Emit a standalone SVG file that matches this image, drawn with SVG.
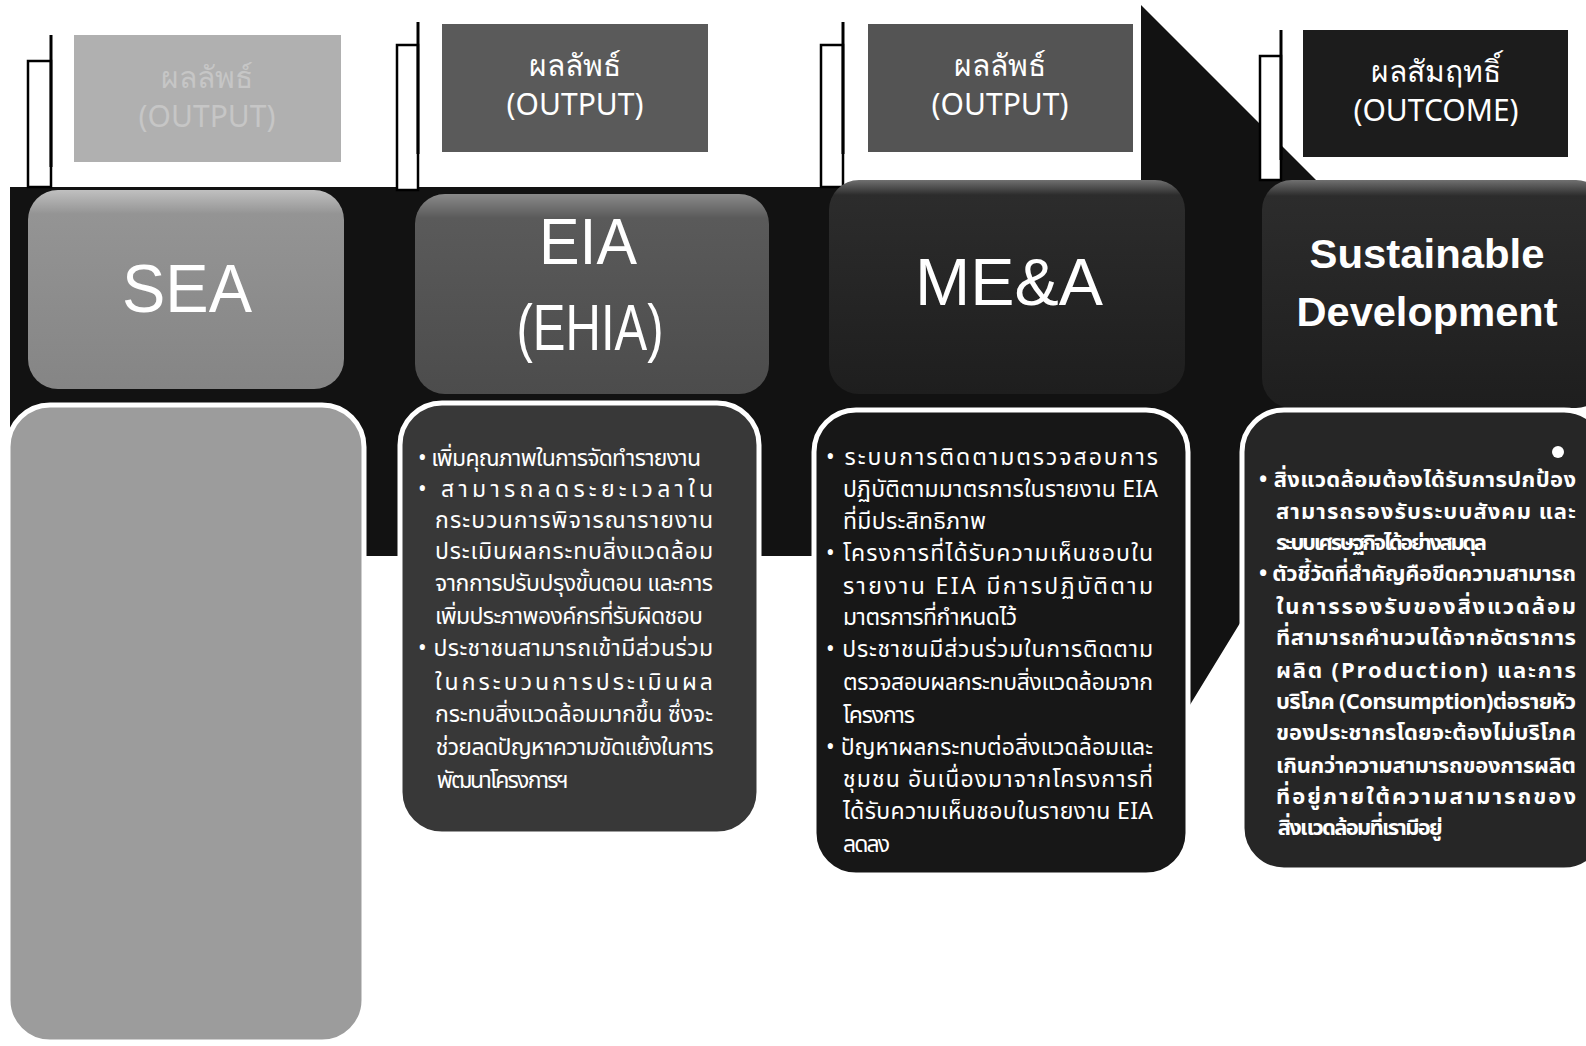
<svg xmlns="http://www.w3.org/2000/svg" width="1586" height="1046" viewBox="0 0 1586 1046">
<defs>
<linearGradient id="gSEA" x1="0" y1="0" x2="0" y2="1">
<stop offset="0" stop-color="#c0c0c0"/><stop offset="0.12" stop-color="#949494"/><stop offset="1" stop-color="#858585"/>
</linearGradient>
<linearGradient id="gEIA" x1="0" y1="0" x2="0" y2="1">
<stop offset="0" stop-color="#8a8a8a"/><stop offset="0.12" stop-color="#5a5a5a"/><stop offset="1" stop-color="#4c4c4c"/>
</linearGradient>
<linearGradient id="gDark" x1="0" y1="0" x2="0" y2="1">
<stop offset="0" stop-color="#707070"/><stop offset="0.07" stop-color="#2c2c2c"/><stop offset="1" stop-color="#1e1e1e"/>
</linearGradient>
<style>
.br{fill:#fff;stroke:#000;stroke-width:2.5}
.brl{stroke:#000;stroke-width:3}
.hd{font-family:"Noto Sans","Open Sans","Liberation Sans",sans-serif;font-size:30px;fill:#fff;text-anchor:middle}
.ttl{font-family:"Liberation Sans",Arial,sans-serif;fill:#fff;text-anchor:middle}
.body{stroke:#fff;stroke-width:5}
.tx{font-family:"Noto Sans Thai","Loma","Garuda","Tlwg Typo","Norasi","DejaVu Sans","Noto Sans",sans-serif;font-size:23px;fill:#fff}
.sd{font-weight:bold;font-size:22px}
</style>
</defs>
<rect width="1586" height="1046" fill="#fff"/>

<g id="band">
<polygon points="10,187 1141,187 1141,5 1437,301 1141,785 1141,556 10,556" fill="#121212"/>
</g>

<g id="connectors">
<rect class="br" x="28" y="61" width="23" height="126"/>
<line class="brl" x1="51" y1="35" x2="51" y2="167"/>
<rect class="br" x="397" y="45" width="21" height="145"/>
<line class="brl" x1="418" y1="22" x2="418" y2="154"/>
<rect class="br" x="821" y="45" width="22" height="142"/>
<line class="brl" x1="843" y1="22" x2="843" y2="154"/>
<rect class="br" x="1260" y="56" width="21" height="124"/>
<line class="brl" x1="1281" y1="30" x2="1281" y2="160"/>
</g>

<g id="h1">
<rect x="74" y="35" width="267" height="127" fill="#b0b0b0"/>
<text class="hd" x="207" y="88" style="fill:#c6c6c6">ผลลัพธ์</text>
<text class="hd" x="207" y="127" style="fill:#c6c6c6">(OUTPUT)</text>
</g>
<g id="h2">
<rect x="442" y="24" width="266" height="128" fill="#5a5a5a"/>
<text class="hd" x="575" y="76">ผลลัพธ์</text>
<text class="hd" x="575" y="115">(OUTPUT)</text>
</g>
<g id="h3">
<rect x="868" y="24" width="265" height="128" fill="#545454"/>
<text class="hd" x="1000" y="76">ผลลัพธ์</text>
<text class="hd" x="1000" y="115">(OUTPUT)</text>
</g>
<g id="h4">
<rect x="1303" y="30" width="265" height="127" fill="#1c1c1c"/>
<text class="hd" x="1436" y="82">ผลสัมฤทธิ์</text>
<text class="hd" x="1436" y="121">(OUTCOME)</text>
</g>

<g id="sea">
<rect x="28" y="190" width="316" height="199" rx="30" fill="url(#gSEA)"/>
<text class="ttl" x="187" y="312" font-size="68" textLength="130" lengthAdjust="spacingAndGlyphs">SEA</text>
</g>
<g id="eia">
<rect x="415" y="194" width="354" height="200" rx="30" fill="url(#gEIA)"/>
<text class="ttl" x="588" y="264" font-size="64" textLength="98" lengthAdjust="spacingAndGlyphs">EIA</text>
<text class="ttl" x="590" y="350" font-size="64" textLength="147" lengthAdjust="spacingAndGlyphs">(EHIA)</text>
</g>
<g id="mea">
<rect x="829" y="180" width="356" height="214" rx="30" fill="url(#gDark)"/>
<text class="ttl" x="1009" y="305" font-size="66" textLength="188" lengthAdjust="spacingAndGlyphs">ME&amp;A</text>
</g>
<g id="sd">
<rect x="1262" y="180" width="344" height="228" rx="30" fill="url(#gDark)"/>
<text class="ttl" x="1427" y="268" font-size="40" font-weight="bold" textLength="235" lengthAdjust="spacingAndGlyphs">Sustainable</text>
<text class="ttl" x="1427" y="326" font-size="40" font-weight="bold" textLength="261" lengthAdjust="spacingAndGlyphs">Development</text>
</g>

<g id="sea-body">
<rect class="body" x="8" y="405" width="356" height="637" rx="42" fill="#9c9c9c"/>
</g>

<g id="eia-body">
<rect class="body" x="400" y="403" width="359" height="431" rx="42" fill="#383838"/>
<g class="tx">
<text x="418" y="466" textLength="283" lengthAdjust="spacing">• เพิ่มคุณภาพในการจัดทำรายงาน</text>
<text x="418" y="497" textLength="295" lengthAdjust="spacing">• สามารถลดระยะเวลาใน</text>
<text x="435" y="528" textLength="278" lengthAdjust="spacing">กระบวนการพิจารณารายงาน</text>
<text x="435" y="559" textLength="278" lengthAdjust="spacing">ประเมินผลกระทบสิ่งแวดล้อม</text>
<text x="435" y="591" textLength="278" lengthAdjust="spacing">จากการปรับปรุงขั้นตอน และการ</text>
<text x="435" y="624" textLength="268" lengthAdjust="spacing">เพิ่มประภาพองค์กรที่รับผิดชอบ</text>
<text x="418" y="656" textLength="295" lengthAdjust="spacing">• ประชาชนสามารถเข้ามีส่วนร่วม</text>
<text x="435" y="690" textLength="278" lengthAdjust="spacing">ในกระบวนการประเมินผล</text>
<text x="435" y="722" textLength="278" lengthAdjust="spacing">กระทบสิ่งแวดล้อมมากขึ้น ซึ่งจะ</text>
<text x="435" y="755" textLength="278" lengthAdjust="spacing">ช่วยลดปัญหาความขัดแย้งในการ</text>
<text x="435" y="788" textLength="132" lengthAdjust="spacing">พัฒนาโครงการฯ</text>
</g>
</g>

<g id="mea-body">
<rect class="body" x="814" y="410" width="374" height="465" rx="42" fill="#171717"/>
<g class="tx">
<text x="826" y="465" textLength="332" lengthAdjust="spacing">• ระบบการติดตามตรวจสอบการ</text>
<text x="843" y="497" textLength="315" lengthAdjust="spacing">ปฏิบัติตามมาตรการในรายงาน EIA</text>
<text x="843" y="529" textLength="143" lengthAdjust="spacing">ที่มีประสิทธิภาพ</text>
<text x="826" y="561" textLength="327" lengthAdjust="spacing">• โครงการที่ได้รับความเห็นชอบใน</text>
<text x="843" y="594" textLength="310" lengthAdjust="spacing">รายงาน EIA มีการปฏิบัติตาม</text>
<text x="843" y="625" textLength="174" lengthAdjust="spacing">มาตรการที่กำหนดไว้</text>
<text x="826" y="657" textLength="327" lengthAdjust="spacing">• ประชาชนมีส่วนร่วมในการติดตาม</text>
<text x="843" y="690" textLength="310" lengthAdjust="spacing">ตรวจสอบผลกระทบสิ่งแวดล้อมจาก</text>
<text x="843" y="723" textLength="72" lengthAdjust="spacing">โครงการ</text>
<text x="826" y="755" textLength="327" lengthAdjust="spacing">• ปัญหาผลกระทบต่อสิ่งแวดล้อมและ</text>
<text x="843" y="787" textLength="310" lengthAdjust="spacing">ชุมชน อันเนื่องมาจากโครงการที่</text>
<text x="843" y="819" textLength="310" lengthAdjust="spacing">ได้รับความเห็นชอบในรายงาน EIA</text>
<text x="843" y="852" textLength="47" lengthAdjust="spacing">ลดลง</text>
</g>
</g>

<g id="sd-body">
<rect class="body" x="1242" y="410" width="364" height="460" rx="42" fill="#262626"/>
<circle cx="1558" cy="452" r="6" fill="#fff"/>
<g class="tx sd">
<text x="1259" y="487" textLength="317" lengthAdjust="spacing">• สิ่งแวดล้อมต้องได้รับการปกป้อง</text>
<text x="1276" y="519" textLength="300" lengthAdjust="spacing">สามารถรองรับระบบสังคม และ</text>
<text x="1276" y="550" textLength="211" lengthAdjust="spacing">ระบบเศรษฐกิจได้อย่างสมดุล</text>
<text x="1259" y="581" textLength="317" lengthAdjust="spacing">• ตัวชี้วัดที่สำคัญคือขีดความสามารถ</text>
<text x="1276" y="614" textLength="300" lengthAdjust="spacing">ในการรองรับของสิ่งแวดล้อม</text>
<text x="1276" y="645" textLength="300" lengthAdjust="spacing">ที่สามารถคำนวนได้จากอัตราการ</text>
<text x="1276" y="678" textLength="300" lengthAdjust="spacing">ผลิต (Production) และการ</text>
<text x="1276" y="709" textLength="300" lengthAdjust="spacing">บริโภค (Consumption)ต่อรายหัว</text>
<text x="1276" y="740" textLength="300" lengthAdjust="spacing">ของประชากรโดยจะต้องไม่บริโภค</text>
<text x="1276" y="773" textLength="300" lengthAdjust="spacing">เกินกว่าความสามารถของการผลิต</text>
<text x="1276" y="804" textLength="300" lengthAdjust="spacing">ที่อยู่ภายใต้ความสามารถของ</text>
<text x="1276" y="835" textLength="165" lengthAdjust="spacing">สิ่งแวดล้อมที่เรามีอยู่</text>
</g>
</g>
</svg>
